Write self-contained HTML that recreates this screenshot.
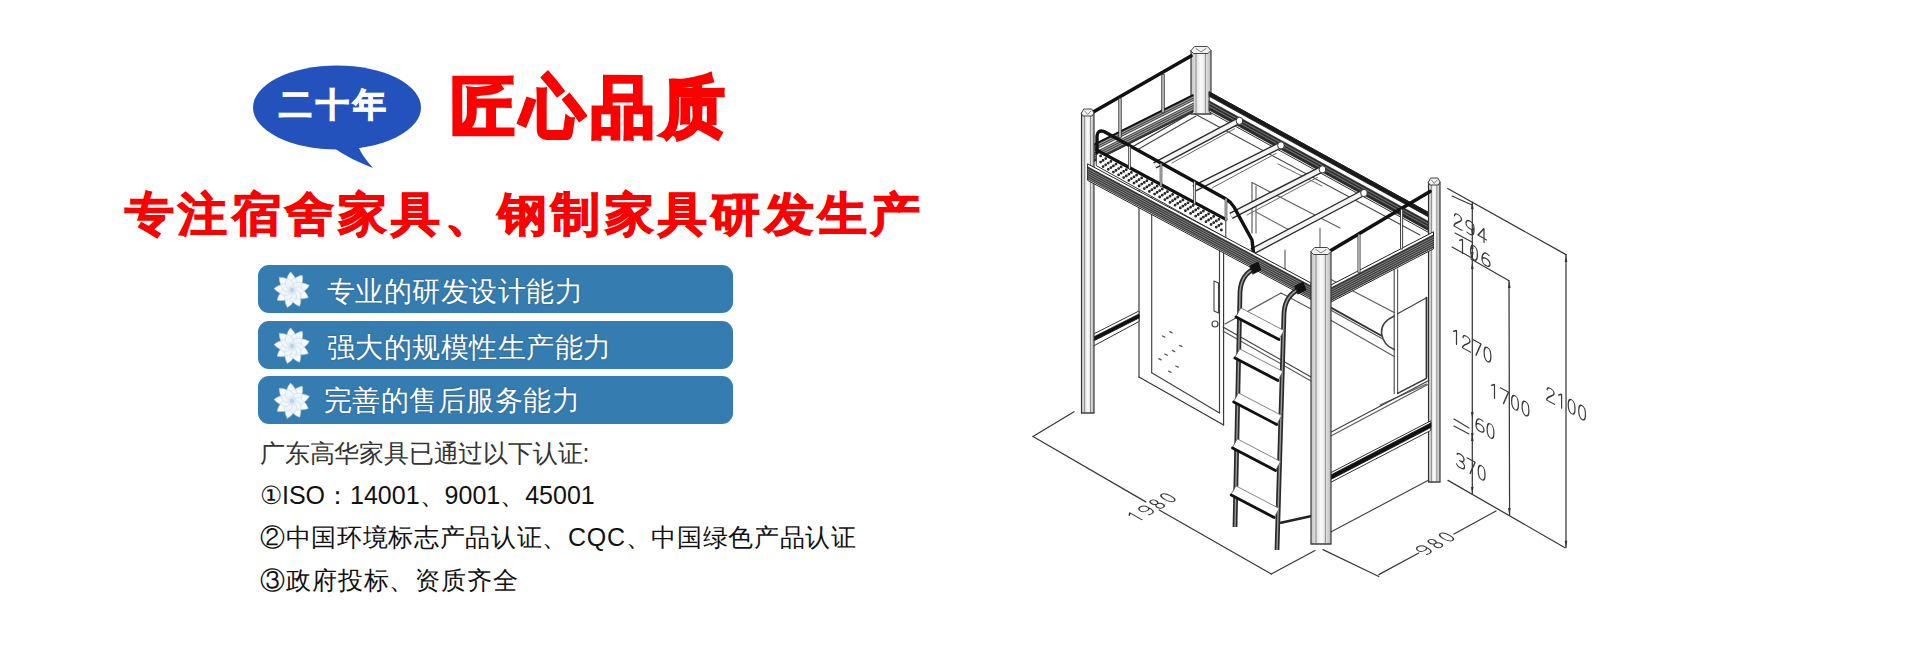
<!DOCTYPE html>
<html><head><meta charset="utf-8">
<style>
html,body{margin:0;padding:0;background:#fff;}
body{width:1920px;height:650px;position:relative;overflow:hidden;font-family:"Liberation Sans",sans-serif;}
.abs{position:absolute;white-space:nowrap;line-height:1;}
.t1{left:451px;top:74.5px;font-size:63px;color:#fc0000;font-weight:700;-webkit-text-stroke:3.4px #fc0000;letter-spacing:7px;transform:scaleY(1.04);transform-origin:0 0;}
.t2{left:125px;top:191px;font-size:49px;color:#fc0000;font-weight:700;-webkit-text-stroke:1.4px #fc0000;letter-spacing:4.3px;transform:scaleY(0.94);transform-origin:0 0;}
.bar{position:absolute;left:258px;width:475px;height:48px;border-radius:11px;background:#357cb0;}
.bar span{text-shadow:0 0 1.5px rgba(20,40,70,0.55);position:absolute;left:69px;top:12px;font-size:28.3px;letter-spacing:0.45px;color:#fff;line-height:1;white-space:nowrap;}
.flw{position:absolute;left:14px;top:5px;width:40px;height:40px;}
.cert{font-size:25px;color:#111;}
</style></head>
<body>
<svg class="abs" style="left:0;top:0" width="960" height="650" viewBox="0 0 960 650">
  <ellipse cx="337" cy="107.5" rx="84" ry="42" fill="#2452bd"/>
  <path d="M331 146 C345 156 360 163 373 168 C366 160 360 152 358 145 Z" fill="#2452bd"/>
</svg>
<div class="abs" style="left:279px;top:88px;font-size:33px;color:#fff;font-weight:700;-webkit-text-stroke:1.3px #fff;letter-spacing:4px">二十年</div>
<div class="abs t1">匠心品质</div>
<div class="abs t2">专注宿舍家具、钢制家具研发生产</div>

<div class="bar" style="top:265px"><svg class="flw" viewBox="-20 -20 40 40"><g fill="#f7fbfe" stroke="#a9c3da" stroke-width="0.5"><path d="M0 -18 C5 -13 7 -7 0 0 C-7 -7 -5 -13 0 -18 Z" transform="rotate(-5)"/><path d="M0 -18 C5 -13 7 -7 0 0 C-7 -7 -5 -13 0 -18 Z" transform="rotate(35)"/><path d="M0 -18 C5 -13 7 -7 0 0 C-7 -7 -5 -13 0 -18 Z" transform="rotate(75)"/><path d="M0 -18 C5 -13 7 -7 0 0 C-7 -7 -5 -13 0 -18 Z" transform="rotate(115)"/><path d="M0 -18 C5 -13 7 -7 0 0 C-7 -7 -5 -13 0 -18 Z" transform="rotate(155)"/><path d="M0 -18 C5 -13 7 -7 0 0 C-7 -7 -5 -13 0 -18 Z" transform="rotate(195)"/><path d="M0 -18 C5 -13 7 -7 0 0 C-7 -7 -5 -13 0 -18 Z" transform="rotate(235)"/><path d="M0 -18 C5 -13 7 -7 0 0 C-7 -7 -5 -13 0 -18 Z" transform="rotate(275)"/><path d="M0 -18 C5 -13 7 -7 0 0 C-7 -7 -5 -13 0 -18 Z" transform="rotate(315)"/></g><g fill="#eef5fb" stroke="#c2d6e8" stroke-width="0.5"><path d="M0 -12.5 C4.5 -9 6 -5 0 0 C-6 -5 -4.5 -9 0 -12.5 Z" transform="rotate(15)"/><path d="M0 -12.5 C4.5 -9 6 -5 0 0 C-6 -5 -4.5 -9 0 -12.5 Z" transform="rotate(55)"/><path d="M0 -12.5 C4.5 -9 6 -5 0 0 C-6 -5 -4.5 -9 0 -12.5 Z" transform="rotate(95)"/><path d="M0 -12.5 C4.5 -9 6 -5 0 0 C-6 -5 -4.5 -9 0 -12.5 Z" transform="rotate(135)"/><path d="M0 -12.5 C4.5 -9 6 -5 0 0 C-6 -5 -4.5 -9 0 -12.5 Z" transform="rotate(175)"/><path d="M0 -12.5 C4.5 -9 6 -5 0 0 C-6 -5 -4.5 -9 0 -12.5 Z" transform="rotate(215)"/><path d="M0 -12.5 C4.5 -9 6 -5 0 0 C-6 -5 -4.5 -9 0 -12.5 Z" transform="rotate(255)"/><path d="M0 -12.5 C4.5 -9 6 -5 0 0 C-6 -5 -4.5 -9 0 -12.5 Z" transform="rotate(295)"/><path d="M0 -12.5 C4.5 -9 6 -5 0 0 C-6 -5 -4.5 -9 0 -12.5 Z" transform="rotate(335)"/></g><circle r="4.5" fill="#dce9f5"/><circle r="2.2" fill="#b9d2ea"/></svg><span>专业的研发设计能力</span></div>
<div class="bar" style="top:321px"><svg class="flw" viewBox="-20 -20 40 40"><g fill="#f7fbfe" stroke="#a9c3da" stroke-width="0.5"><path d="M0 -18 C5 -13 7 -7 0 0 C-7 -7 -5 -13 0 -18 Z" transform="rotate(-5)"/><path d="M0 -18 C5 -13 7 -7 0 0 C-7 -7 -5 -13 0 -18 Z" transform="rotate(35)"/><path d="M0 -18 C5 -13 7 -7 0 0 C-7 -7 -5 -13 0 -18 Z" transform="rotate(75)"/><path d="M0 -18 C5 -13 7 -7 0 0 C-7 -7 -5 -13 0 -18 Z" transform="rotate(115)"/><path d="M0 -18 C5 -13 7 -7 0 0 C-7 -7 -5 -13 0 -18 Z" transform="rotate(155)"/><path d="M0 -18 C5 -13 7 -7 0 0 C-7 -7 -5 -13 0 -18 Z" transform="rotate(195)"/><path d="M0 -18 C5 -13 7 -7 0 0 C-7 -7 -5 -13 0 -18 Z" transform="rotate(235)"/><path d="M0 -18 C5 -13 7 -7 0 0 C-7 -7 -5 -13 0 -18 Z" transform="rotate(275)"/><path d="M0 -18 C5 -13 7 -7 0 0 C-7 -7 -5 -13 0 -18 Z" transform="rotate(315)"/></g><g fill="#eef5fb" stroke="#c2d6e8" stroke-width="0.5"><path d="M0 -12.5 C4.5 -9 6 -5 0 0 C-6 -5 -4.5 -9 0 -12.5 Z" transform="rotate(15)"/><path d="M0 -12.5 C4.5 -9 6 -5 0 0 C-6 -5 -4.5 -9 0 -12.5 Z" transform="rotate(55)"/><path d="M0 -12.5 C4.5 -9 6 -5 0 0 C-6 -5 -4.5 -9 0 -12.5 Z" transform="rotate(95)"/><path d="M0 -12.5 C4.5 -9 6 -5 0 0 C-6 -5 -4.5 -9 0 -12.5 Z" transform="rotate(135)"/><path d="M0 -12.5 C4.5 -9 6 -5 0 0 C-6 -5 -4.5 -9 0 -12.5 Z" transform="rotate(175)"/><path d="M0 -12.5 C4.5 -9 6 -5 0 0 C-6 -5 -4.5 -9 0 -12.5 Z" transform="rotate(215)"/><path d="M0 -12.5 C4.5 -9 6 -5 0 0 C-6 -5 -4.5 -9 0 -12.5 Z" transform="rotate(255)"/><path d="M0 -12.5 C4.5 -9 6 -5 0 0 C-6 -5 -4.5 -9 0 -12.5 Z" transform="rotate(295)"/><path d="M0 -12.5 C4.5 -9 6 -5 0 0 C-6 -5 -4.5 -9 0 -12.5 Z" transform="rotate(335)"/></g><circle r="4.5" fill="#dce9f5"/><circle r="2.2" fill="#b9d2ea"/></svg><span>强大的规模性生产能力</span></div>
<div class="bar" style="top:376px"><svg class="flw" viewBox="-20 -20 40 40"><g fill="#f7fbfe" stroke="#a9c3da" stroke-width="0.5"><path d="M0 -18 C5 -13 7 -7 0 0 C-7 -7 -5 -13 0 -18 Z" transform="rotate(-5)"/><path d="M0 -18 C5 -13 7 -7 0 0 C-7 -7 -5 -13 0 -18 Z" transform="rotate(35)"/><path d="M0 -18 C5 -13 7 -7 0 0 C-7 -7 -5 -13 0 -18 Z" transform="rotate(75)"/><path d="M0 -18 C5 -13 7 -7 0 0 C-7 -7 -5 -13 0 -18 Z" transform="rotate(115)"/><path d="M0 -18 C5 -13 7 -7 0 0 C-7 -7 -5 -13 0 -18 Z" transform="rotate(155)"/><path d="M0 -18 C5 -13 7 -7 0 0 C-7 -7 -5 -13 0 -18 Z" transform="rotate(195)"/><path d="M0 -18 C5 -13 7 -7 0 0 C-7 -7 -5 -13 0 -18 Z" transform="rotate(235)"/><path d="M0 -18 C5 -13 7 -7 0 0 C-7 -7 -5 -13 0 -18 Z" transform="rotate(275)"/><path d="M0 -18 C5 -13 7 -7 0 0 C-7 -7 -5 -13 0 -18 Z" transform="rotate(315)"/></g><g fill="#eef5fb" stroke="#c2d6e8" stroke-width="0.5"><path d="M0 -12.5 C4.5 -9 6 -5 0 0 C-6 -5 -4.5 -9 0 -12.5 Z" transform="rotate(15)"/><path d="M0 -12.5 C4.5 -9 6 -5 0 0 C-6 -5 -4.5 -9 0 -12.5 Z" transform="rotate(55)"/><path d="M0 -12.5 C4.5 -9 6 -5 0 0 C-6 -5 -4.5 -9 0 -12.5 Z" transform="rotate(95)"/><path d="M0 -12.5 C4.5 -9 6 -5 0 0 C-6 -5 -4.5 -9 0 -12.5 Z" transform="rotate(135)"/><path d="M0 -12.5 C4.5 -9 6 -5 0 0 C-6 -5 -4.5 -9 0 -12.5 Z" transform="rotate(175)"/><path d="M0 -12.5 C4.5 -9 6 -5 0 0 C-6 -5 -4.5 -9 0 -12.5 Z" transform="rotate(215)"/><path d="M0 -12.5 C4.5 -9 6 -5 0 0 C-6 -5 -4.5 -9 0 -12.5 Z" transform="rotate(255)"/><path d="M0 -12.5 C4.5 -9 6 -5 0 0 C-6 -5 -4.5 -9 0 -12.5 Z" transform="rotate(295)"/><path d="M0 -12.5 C4.5 -9 6 -5 0 0 C-6 -5 -4.5 -9 0 -12.5 Z" transform="rotate(335)"/></g><circle r="4.5" fill="#dce9f5"/><circle r="2.2" fill="#b9d2ea"/></svg><span style="left:66px;top:10px">完善的售后服务能力</span></div>

<div class="abs cert" style="left:260px;top:441px;color:#333;letter-spacing:-0.2px">广东高华家具已通过以下认证:</div>
<div class="abs cert" style="left:260px;top:482.5px">①ISO：14001、9001、45001</div>
<div class="abs cert" style="left:260px;top:525px;letter-spacing:0.67px">②中国环境标志产品认证、CQC、中国绿色产品认证</div>
<div class="abs cert" style="left:260px;top:568px;letter-spacing:0.9px">③政府投标、资质齐全</div>



<!-- DRAWING -->
<svg class="abs" style="left:0;top:0" width="1920" height="650" viewBox="0 0 1920 650" fill="none" stroke="#222" stroke-width="1.2" stroke-linecap="round" stroke-linejoin="round">
<defs><linearGradient id="pg" x1="0" x2="1" y1="0" y2="0"><stop offset="0" stop-color="#c6c6c6"/><stop offset="0.3" stop-color="#e4e4e4"/><stop offset="0.5" stop-color="#fbfbfb"/><stop offset="0.7" stop-color="#e6e6e6"/><stop offset="1" stop-color="#bcbcbc"/></linearGradient></defs>
<polygon points="1191.0,50.5 1211.0,50.5 1211.0,114.0 1191.0,114.0" fill="url(#pg)" stroke="#333" stroke-width="1.15"/>
<line x1="1196.0" y1="52.5" x2="1196.0" y2="113.0" stroke="#777" stroke-width="0.8" />
<line x1="1205.4" y1="52.5" x2="1205.4" y2="113.0" stroke="#777" stroke-width="0.8" />
<path d="M1191 50.5 L1194.6 46.5 L1207.4 46.5 L1211 50.5 L1208.0 53.5 L1194.0 53.5 Z" stroke="#444" stroke-width="1" fill="#f2f2f2" />
<path d="M1196.0 48.5 L1201.0 52.0 L1206.0 48.5" stroke="#666" stroke-width="0.8" fill="none" />
<line x1="1191.0" y1="114.0" x2="1211.0" y2="114.0" stroke="#444" stroke-width="1.2" />
<polygon points="1209.5,92.0 1429.0,212.7 1429.0,232.7 1209.5,112.0" fill="#fff" stroke="#333" stroke-width="1"/>
<polygon points="1209.5,92.0 1429.0,212.7 1429.0,217.2 1209.5,96.5" fill="#1a1a1a" stroke="#1a1a1a" stroke-width="0.8"/>
<polygon points="1209.5,101.0 1429.0,221.7 1429.0,231.0 1209.5,110.3" fill="#2a2a2a" stroke="#222" stroke-width="0.6"/>
<line x1="1209.5" y1="103.5" x2="1429.0" y2="224.2" stroke="#6a6a6a" stroke-width="1.15" />
<line x1="1209.5" y1="106.5" x2="1429.0" y2="227.2" stroke="#6a6a6a" stroke-width="1.15" />
<polygon points="1093.0,145.0 1193.0,95.0 1193.0,112.0 1093.0,162.0" fill="#3a3a3a" stroke="#222" stroke-width="1"/>
<line x1="1093.0" y1="147.2" x2="1193.0" y2="97.2" stroke="#a0a0a0" stroke-width="1.15" />
<line x1="1093.0" y1="149.4" x2="1193.0" y2="99.4" stroke="#a0a0a0" stroke-width="1.15" />
<line x1="1093.0" y1="154.5" x2="1193.0" y2="104.5" stroke="#a0a0a0" stroke-width="1.15" />
<line x1="1093.0" y1="156.7" x2="1193.0" y2="106.7" stroke="#a0a0a0" stroke-width="1.15" />
<line x1="1093.0" y1="158.9" x2="1193.0" y2="108.9" stroke="#a0a0a0" stroke-width="1.15" />
<line x1="1093.0" y1="152.0" x2="1193.0" y2="102.0" stroke="#f0f0f0" stroke-width="1.6" />
<line x1="1093.0" y1="145.0" x2="1193.0" y2="95.0" stroke="#111" stroke-width="1.4" />
<line x1="1093.3" y1="112.0" x2="1191.0" y2="56.0" stroke="#111" stroke-width="3.6" />
<line x1="1120.0" y1="99.0" x2="1120.0" y2="137.0" stroke="#333" stroke-width="3.4" />
<line x1="1120.0" y1="99.0" x2="1120.0" y2="137.0" stroke="#fff" stroke-width="1.2" />
<line x1="1163.0" y1="75.0" x2="1163.0" y2="112.0" stroke="#333" stroke-width="3.4" />
<line x1="1163.0" y1="75.0" x2="1163.0" y2="112.0" stroke="#fff" stroke-width="1.2" />
<line x1="1133.0" y1="146.5" x2="1192.0" y2="112.6" stroke="#333" stroke-width="1.15" />
<line x1="1137.0" y1="150.0" x2="1196.0" y2="116.0" stroke="#4a4a4a" stroke-width="1.15" />
<line x1="1195.0" y1="114.0" x2="1420.0" y2="235.0" stroke="#4a4a4a" stroke-width="1.15" />
<line x1="1234.5" y1="128.8" x2="1172.0" y2="163.0" stroke="#6a6a6a" stroke-width="1.0" />
<line x1="1276.0" y1="153.4" x2="1212.0" y2="188.0" stroke="#6a6a6a" stroke-width="1.0" />
<line x1="1317.5" y1="177.4" x2="1247.0" y2="215.0" stroke="#6a6a6a" stroke-width="1.0" />
<line x1="1252.0" y1="182.5" x2="1340.0" y2="228.0" stroke="#5a5a5a" stroke-width="1.15" />
<line x1="1252.0" y1="182.5" x2="1252.0" y2="233.0" stroke="#5a5a5a" stroke-width="1.15" />
<line x1="1256.0" y1="186.0" x2="1256.0" y2="233.0" stroke="#6a6a6a" stroke-width="1.15" />
<line x1="1256.0" y1="212.0" x2="1293.0" y2="232.0" stroke="#6a6a6a" stroke-width="1.15" />
<line x1="1278.0" y1="164.0" x2="1322.0" y2="186.0" stroke="#6a6a6a" stroke-width="1.0" />
<line x1="1285.0" y1="250.0" x2="1285.0" y2="273.0" stroke="#5a5a5a" stroke-width="1.15" />
<line x1="1320.0" y1="228.0" x2="1320.0" y2="250.0" stroke="#6a6a6a" stroke-width="1.15" />
<line x1="1238.5" y1="120.8" x2="1154.8" y2="165.3" stroke="#2a2a2a" stroke-width="7.0" stroke-linecap="butt"/>
<line x1="1238.5" y1="120.8" x2="1154.8" y2="165.3" stroke="#f4f4f4" stroke-width="4.3" stroke-linecap="butt"/>
<ellipse cx="1239.5" cy="120.8" rx="3.4" ry="3.6" fill="#fff" stroke="#333" stroke-width="1"/>
<line x1="1280.0" y1="145.4" x2="1194.0" y2="188.7" stroke="#2a2a2a" stroke-width="7.0" stroke-linecap="butt"/>
<line x1="1280.0" y1="145.4" x2="1194.0" y2="188.7" stroke="#f4f4f4" stroke-width="4.3" stroke-linecap="butt"/>
<ellipse cx="1281.0" cy="145.4" rx="3.4" ry="3.6" fill="#fff" stroke="#333" stroke-width="1"/>
<line x1="1321.5" y1="169.4" x2="1231.0" y2="215.8" stroke="#2a2a2a" stroke-width="7.0" stroke-linecap="butt"/>
<line x1="1321.5" y1="169.4" x2="1231.0" y2="215.8" stroke="#f4f4f4" stroke-width="4.3" stroke-linecap="butt"/>
<ellipse cx="1322.5" cy="169.4" rx="3.4" ry="3.6" fill="#fff" stroke="#333" stroke-width="1"/>
<line x1="1363.0" y1="193.0" x2="1252.0" y2="251.6" stroke="#2a2a2a" stroke-width="7.0" stroke-linecap="butt"/>
<line x1="1363.0" y1="193.0" x2="1252.0" y2="251.6" stroke="#f4f4f4" stroke-width="4.3" stroke-linecap="butt"/>
<ellipse cx="1364.0" cy="193.0" rx="3.4" ry="3.6" fill="#fff" stroke="#333" stroke-width="1"/>
<line x1="1139.0" y1="190.0" x2="1139.0" y2="377.0" stroke="#333" stroke-width="1.15" />
<line x1="1151.7" y1="197.0" x2="1151.7" y2="372.7" stroke="#404040" stroke-width="1.15" />
<line x1="1139.0" y1="377.0" x2="1223.6" y2="425.0" stroke="#333" stroke-width="1.15" />
<line x1="1151.7" y1="372.7" x2="1219.5" y2="413.0" stroke="#404040" stroke-width="1.15" />
<line x1="1223.6" y1="243.0" x2="1223.6" y2="425.0" stroke="#333" stroke-width="1.15" />
<line x1="1219.5" y1="245.0" x2="1219.5" y2="413.0" stroke="#404040" stroke-width="1.15" />
<polygon points="1214.0,281.0 1218.5,283.0 1218.5,313.0 1214.0,311.0" fill="#fff" stroke="#444" stroke-width="1.1"/>
<circle cx="1215" cy="324" r="3" fill="#fff" stroke="#444" stroke-width="1.2"/>
<line x1="1169.8" y1="331.6" x2="1172.2" y2="332.8" stroke="#5a5a5a" stroke-width="1.3" />
<line x1="1162.4" y1="336.0" x2="1164.8" y2="337.2" stroke="#5a5a5a" stroke-width="1.3" />
<line x1="1179.6" y1="345.4" x2="1182.0" y2="346.6" stroke="#5a5a5a" stroke-width="1.3" />
<line x1="1172.3" y1="350.4" x2="1174.7" y2="351.6" stroke="#5a5a5a" stroke-width="1.3" />
<line x1="1164.8" y1="354.0" x2="1167.2" y2="355.2" stroke="#5a5a5a" stroke-width="1.3" />
<line x1="1158.8" y1="358.7" x2="1161.2" y2="359.9" stroke="#5a5a5a" stroke-width="1.3" />
<line x1="1175.8" y1="366.0" x2="1178.2" y2="367.2" stroke="#5a5a5a" stroke-width="1.3" />
<line x1="1168.6" y1="371.2" x2="1171.0" y2="372.4" stroke="#5a5a5a" stroke-width="1.3" />
<polygon points="1093.5,334.0 1139.0,311.0 1139.0,321.5 1093.5,346.0" fill="#fff" stroke="#333" stroke-width="1"/>
<polygon points="1093.5,337.0 1139.0,314.0 1139.0,318.0 1093.5,341.0" fill="#111" stroke="#111" stroke-width="0.8"/>
<polygon points="1081.5,113.0 1094.0,113.0 1094.0,413.0 1081.5,413.0" fill="url(#pg)" stroke="#333" stroke-width="1.15"/>
<line x1="1084.6" y1="115.0" x2="1084.6" y2="412.0" stroke="#777" stroke-width="0.8" />
<line x1="1090.5" y1="115.0" x2="1090.5" y2="412.0" stroke="#777" stroke-width="0.8" />
<path d="M1081.5 113 L1083.75 109 L1091.75 109 L1094 113 L1092.125 116 L1083.375 116 Z" stroke="#444" stroke-width="1" fill="#f2f2f2" />
<path d="M1084.625 111 L1087.75 114.5 L1090.875 111" stroke="#666" stroke-width="0.8" fill="none" />
<line x1="1081.5" y1="413.0" x2="1094.0" y2="413.0" stroke="#444" stroke-width="1.2" />
<polygon points="1096.6,150.0 1225.8,219.3 1225.8,237.8 1096.6,165.8" fill="#fff" stroke="#333" stroke-width="1"/>
<circle cx="1100.6" cy="155.9" r="0.8" fill="#999"/>
<circle cx="1105.7" cy="158.6" r="0.8" fill="#999"/>
<circle cx="1110.9" cy="161.4" r="0.8" fill="#999"/>
<circle cx="1116.0" cy="164.2" r="0.8" fill="#999"/>
<circle cx="1121.1" cy="166.9" r="0.8" fill="#999"/>
<circle cx="1126.3" cy="169.7" r="0.8" fill="#999"/>
<circle cx="1131.4" cy="172.4" r="0.8" fill="#999"/>
<circle cx="1136.6" cy="175.2" r="0.8" fill="#999"/>
<circle cx="1141.7" cy="177.9" r="0.8" fill="#999"/>
<circle cx="1146.9" cy="180.7" r="0.8" fill="#999"/>
<circle cx="1152.0" cy="183.5" r="0.8" fill="#999"/>
<circle cx="1157.1" cy="186.2" r="0.8" fill="#999"/>
<circle cx="1162.3" cy="189.0" r="0.8" fill="#999"/>
<circle cx="1167.4" cy="191.7" r="0.8" fill="#999"/>
<circle cx="1172.6" cy="194.5" r="0.8" fill="#999"/>
<circle cx="1177.7" cy="197.2" r="0.8" fill="#999"/>
<circle cx="1182.9" cy="200.0" r="0.8" fill="#999"/>
<circle cx="1188.0" cy="202.8" r="0.8" fill="#999"/>
<circle cx="1193.1" cy="205.5" r="0.8" fill="#999"/>
<circle cx="1198.3" cy="208.3" r="0.8" fill="#999"/>
<circle cx="1203.4" cy="211.0" r="0.8" fill="#999"/>
<circle cx="1208.6" cy="213.8" r="0.8" fill="#999"/>
<circle cx="1213.7" cy="216.5" r="0.8" fill="#999"/>
<circle cx="1218.9" cy="219.3" r="0.8" fill="#999"/>
<circle cx="1103.1" cy="160.4" r="0.8" fill="#999"/>
<circle cx="1108.3" cy="163.1" r="0.8" fill="#999"/>
<circle cx="1113.4" cy="165.9" r="0.8" fill="#999"/>
<circle cx="1118.6" cy="168.6" r="0.8" fill="#999"/>
<circle cx="1123.7" cy="171.4" r="0.8" fill="#999"/>
<circle cx="1128.9" cy="174.2" r="0.8" fill="#999"/>
<circle cx="1134.0" cy="176.9" r="0.8" fill="#999"/>
<circle cx="1139.1" cy="179.7" r="0.8" fill="#999"/>
<circle cx="1144.3" cy="182.4" r="0.8" fill="#999"/>
<circle cx="1149.4" cy="185.2" r="0.8" fill="#999"/>
<circle cx="1154.6" cy="187.9" r="0.8" fill="#999"/>
<circle cx="1159.7" cy="190.7" r="0.8" fill="#999"/>
<circle cx="1164.9" cy="193.4" r="0.8" fill="#999"/>
<circle cx="1170.0" cy="196.2" r="0.8" fill="#999"/>
<circle cx="1175.1" cy="199.0" r="0.8" fill="#999"/>
<circle cx="1180.3" cy="201.7" r="0.8" fill="#999"/>
<circle cx="1185.4" cy="204.5" r="0.8" fill="#999"/>
<circle cx="1190.6" cy="207.2" r="0.8" fill="#999"/>
<circle cx="1195.7" cy="210.0" r="0.8" fill="#999"/>
<circle cx="1200.9" cy="212.7" r="0.8" fill="#999"/>
<circle cx="1206.0" cy="215.5" r="0.8" fill="#999"/>
<circle cx="1211.1" cy="218.3" r="0.8" fill="#999"/>
<circle cx="1216.3" cy="221.0" r="0.8" fill="#999"/>
<circle cx="1221.4" cy="223.8" r="0.8" fill="#999"/>
<circle cx="1100.6" cy="162.1" r="0.8" fill="#999"/>
<circle cx="1105.7" cy="164.8" r="0.8" fill="#999"/>
<circle cx="1110.9" cy="167.6" r="0.8" fill="#999"/>
<circle cx="1116.0" cy="170.4" r="0.8" fill="#999"/>
<circle cx="1121.1" cy="173.1" r="0.8" fill="#999"/>
<circle cx="1126.3" cy="175.9" r="0.8" fill="#999"/>
<circle cx="1131.4" cy="178.6" r="0.8" fill="#999"/>
<circle cx="1136.6" cy="181.4" r="0.8" fill="#999"/>
<circle cx="1141.7" cy="184.1" r="0.8" fill="#999"/>
<circle cx="1146.9" cy="186.9" r="0.8" fill="#999"/>
<circle cx="1152.0" cy="189.7" r="0.8" fill="#999"/>
<circle cx="1157.1" cy="192.4" r="0.8" fill="#999"/>
<circle cx="1162.3" cy="195.2" r="0.8" fill="#999"/>
<circle cx="1167.4" cy="197.9" r="0.8" fill="#999"/>
<circle cx="1172.6" cy="200.7" r="0.8" fill="#999"/>
<circle cx="1177.7" cy="203.4" r="0.8" fill="#999"/>
<circle cx="1182.9" cy="206.2" r="0.8" fill="#999"/>
<circle cx="1188.0" cy="209.0" r="0.8" fill="#999"/>
<circle cx="1193.1" cy="211.7" r="0.8" fill="#999"/>
<circle cx="1198.3" cy="214.5" r="0.8" fill="#999"/>
<circle cx="1203.4" cy="217.2" r="0.8" fill="#999"/>
<circle cx="1208.6" cy="220.0" r="0.8" fill="#999"/>
<circle cx="1213.7" cy="222.7" r="0.8" fill="#999"/>
<circle cx="1218.9" cy="225.5" r="0.8" fill="#999"/>
<circle cx="1103.1" cy="166.6" r="0.8" fill="#999"/>
<circle cx="1108.3" cy="169.3" r="0.8" fill="#999"/>
<circle cx="1113.4" cy="172.1" r="0.8" fill="#999"/>
<circle cx="1118.6" cy="174.8" r="0.8" fill="#999"/>
<circle cx="1123.7" cy="177.6" r="0.8" fill="#999"/>
<circle cx="1128.9" cy="180.4" r="0.8" fill="#999"/>
<circle cx="1134.0" cy="183.1" r="0.8" fill="#999"/>
<circle cx="1139.1" cy="185.9" r="0.8" fill="#999"/>
<circle cx="1144.3" cy="188.6" r="0.8" fill="#999"/>
<circle cx="1149.4" cy="191.4" r="0.8" fill="#999"/>
<circle cx="1154.6" cy="194.1" r="0.8" fill="#999"/>
<circle cx="1159.7" cy="196.9" r="0.8" fill="#999"/>
<circle cx="1164.9" cy="199.6" r="0.8" fill="#999"/>
<circle cx="1170.0" cy="202.4" r="0.8" fill="#999"/>
<circle cx="1175.1" cy="205.2" r="0.8" fill="#999"/>
<circle cx="1180.3" cy="207.9" r="0.8" fill="#999"/>
<circle cx="1185.4" cy="210.7" r="0.8" fill="#999"/>
<circle cx="1190.6" cy="213.4" r="0.8" fill="#999"/>
<circle cx="1195.7" cy="216.2" r="0.8" fill="#999"/>
<circle cx="1200.9" cy="218.9" r="0.8" fill="#999"/>
<circle cx="1206.0" cy="221.7" r="0.8" fill="#999"/>
<circle cx="1211.1" cy="224.5" r="0.8" fill="#999"/>
<circle cx="1216.3" cy="227.2" r="0.8" fill="#999"/>
<circle cx="1221.4" cy="230.0" r="0.8" fill="#999"/>
<line x1="1096.6" y1="150.0" x2="1225.8" y2="219.3" stroke="#111" stroke-width="3.2" />
<path d="M1097 153 L1097 136 Q1097.5 129.5 1104 131.5 L1226 199 Q1231 202 1234 207 L1252 240 L1254 257" stroke="#111" stroke-width="3.4" fill="none" />
<line x1="1129.5" y1="147.0" x2="1129.5" y2="168.0" stroke="#333" stroke-width="2.6" />
<line x1="1129.5" y1="147.0" x2="1129.5" y2="168.0" stroke="#ddd" stroke-width="1.15" />
<line x1="1161.0" y1="164.0" x2="1161.0" y2="186.0" stroke="#333" stroke-width="2.6" />
<line x1="1161.0" y1="164.0" x2="1161.0" y2="186.0" stroke="#ddd" stroke-width="1.15" />
<line x1="1194.6" y1="182.0" x2="1194.6" y2="203.0" stroke="#333" stroke-width="2.6" />
<line x1="1194.6" y1="182.0" x2="1194.6" y2="203.0" stroke="#ddd" stroke-width="1.15" />
<line x1="1226.0" y1="199.0" x2="1226.0" y2="220.0" stroke="#333" stroke-width="2.6" />
<line x1="1226.0" y1="199.0" x2="1226.0" y2="220.0" stroke="#ddd" stroke-width="1.15" />
<polygon points="1088.0,164.0 1311.0,283.0 1311.0,299.5 1088.0,180.5" fill="#fff" stroke="#222" stroke-width="1"/>
<polygon points="1088.0,167.0 1311.0,286.0 1311.0,298.0 1088.0,179.0" fill="#3a3a3a" stroke="#222" stroke-width="0.8"/>
<line x1="1088.0" y1="169.2" x2="1311.0" y2="288.2" stroke="#a0a0a0" stroke-width="0.7" />
<line x1="1088.0" y1="171.4" x2="1311.0" y2="290.4" stroke="#a0a0a0" stroke-width="0.7" />
<line x1="1088.0" y1="173.6" x2="1311.0" y2="292.6" stroke="#a0a0a0" stroke-width="0.7" />
<line x1="1088.0" y1="175.8" x2="1311.0" y2="294.8" stroke="#a0a0a0" stroke-width="0.7" />
<line x1="1088.0" y1="178.0" x2="1311.0" y2="297.0" stroke="#a0a0a0" stroke-width="0.7" />
<line x1="1223.0" y1="327.0" x2="1311.0" y2="377.0" stroke="#404040" stroke-width="1.15" />
<line x1="1223.0" y1="331.0" x2="1311.0" y2="381.0" stroke="#5a5a5a" stroke-width="1.15" />
<line x1="1225.0" y1="324.0" x2="1281.0" y2="293.0" stroke="#5a5a5a" stroke-width="1.15" />
<line x1="1281.0" y1="293.0" x2="1313.0" y2="310.0" stroke="#5a5a5a" stroke-width="1.15" />
<line x1="1330.0" y1="279.0" x2="1394.2" y2="312.6" stroke="#5a5a5a" stroke-width="1.15" />
<line x1="1394.2" y1="268.8" x2="1394.2" y2="393.4" stroke="#4a4a4a" stroke-width="1.15" />
<line x1="1397.6" y1="268.8" x2="1397.6" y2="393.4" stroke="#5a5a5a" stroke-width="1.15" />
<line x1="1397.6" y1="313.8" x2="1426.5" y2="297.7" stroke="#404040" stroke-width="1.15" />
<line x1="1426.5" y1="297.7" x2="1426.5" y2="377.2" stroke="#333" stroke-width="1.8" />
<line x1="1397.6" y1="393.4" x2="1426.5" y2="378.4" stroke="#333" stroke-width="1.5" />
<line x1="1329.6" y1="306.9" x2="1381.5" y2="335.7" stroke="#333" stroke-width="1.8" />
<line x1="1329.6" y1="309.5" x2="1381.5" y2="338.3" stroke="#5a5a5a" stroke-width="1.15" />
<path d="M1394.2 316 Q1381 322 1381.5 333 Q1383 345 1394.2 349.6" stroke="#444" stroke-width="1.6" fill="none" />
<line x1="1329.6" y1="319.6" x2="1394.2" y2="356.5" stroke="#5a5a5a" stroke-width="1.15" />
<line x1="1380.0" y1="405.0" x2="1426.5" y2="384.0" stroke="#5a5a5a" stroke-width="1.15" />
<path d="M1254 269 Q1241 275 1240 292 L1235 527" stroke="#2a2a2a" stroke-width="4.8" fill="none" stroke-linecap="butt"/>
<path d="M1254 269 Q1241 275 1240 292 L1235 527" stroke="#9a9a9a" stroke-width="1.4" fill="none" stroke-linecap="butt"/>
<path d="M1299 289 Q1285 296 1284 313 L1277 550" stroke="#2a2a2a" stroke-width="4.8" fill="none" stroke-linecap="butt"/>
<path d="M1299 289 Q1285 296 1284 313 L1277 550" stroke="#9a9a9a" stroke-width="1.4" fill="none" stroke-linecap="butt"/>
<polygon points="1250.0,266.0 1258.0,262.0 1261.0,270.0 1253.0,274.0" fill="#111" stroke="#111" stroke-width="0.8"/>
<polygon points="1295.0,286.0 1303.0,282.0 1306.0,290.0 1298.0,294.0" fill="#111" stroke="#111" stroke-width="0.8"/>
<polygon points="1236.0,317.0 1279.0,339.5 1284.0,330.5 1241.0,308.0" fill="#fff" stroke="#666" stroke-width="0.8"/>
<line x1="1236.0" y1="317.0" x2="1279.0" y2="339.5" stroke="#111" stroke-width="2.8" />
<polygon points="1234.9,358.0 1277.9,380.5 1282.9,371.5 1239.9,349.0" fill="#fff" stroke="#666" stroke-width="0.8"/>
<line x1="1234.9" y1="358.0" x2="1277.9" y2="380.5" stroke="#111" stroke-width="2.8" />
<polygon points="1233.7,402.0 1276.7,424.5 1281.7,415.5 1238.7,393.0" fill="#fff" stroke="#666" stroke-width="0.8"/>
<line x1="1233.7" y1="402.0" x2="1276.7" y2="424.5" stroke="#111" stroke-width="2.8" />
<polygon points="1232.5,448.0 1275.5,470.5 1280.5,461.5 1237.5,439.0" fill="#fff" stroke="#666" stroke-width="0.8"/>
<line x1="1232.5" y1="448.0" x2="1275.5" y2="470.5" stroke="#111" stroke-width="2.8" />
<polygon points="1231.2,495.0 1274.2,517.5 1279.2,508.5 1236.2,486.0" fill="#fff" stroke="#666" stroke-width="0.8"/>
<line x1="1231.2" y1="495.0" x2="1274.2" y2="517.5" stroke="#111" stroke-width="2.8" />
<line x1="1281.0" y1="522.7" x2="1312.8" y2="515.8" stroke="#222" stroke-width="2.6" />
<polygon points="1428.5,182.0 1440.0,182.0 1440.0,482.0 1428.5,482.0" fill="url(#pg)" stroke="#333" stroke-width="1.15"/>
<line x1="1431.4" y1="184.0" x2="1431.4" y2="481.0" stroke="#777" stroke-width="0.8" />
<line x1="1436.8" y1="184.0" x2="1436.8" y2="481.0" stroke="#777" stroke-width="0.8" />
<path d="M1428.5 182 L1430.57 178 L1437.93 178 L1440 182 L1438.275 185 L1430.225 185 Z" stroke="#444" stroke-width="1" fill="#f2f2f2" />
<path d="M1431.375 180 L1434.25 183.5 L1437.125 180" stroke="#666" stroke-width="0.8" fill="none" />
<line x1="1428.5" y1="482.0" x2="1440.0" y2="482.0" stroke="#444" stroke-width="1.2" />
<polygon points="1331.0,285.0 1433.5,231.8 1433.5,248.8 1331.0,302.0" fill="#fff" stroke="#222" stroke-width="1"/>
<polygon points="1331.0,288.0 1433.5,234.8 1433.5,247.3 1331.0,300.5" fill="#3a3a3a" stroke="#222" stroke-width="0.8"/>
<line x1="1331.0" y1="290.2" x2="1433.5" y2="237.0" stroke="#a0a0a0" stroke-width="0.7" />
<line x1="1331.0" y1="292.4" x2="1433.5" y2="239.2" stroke="#a0a0a0" stroke-width="0.7" />
<line x1="1331.0" y1="294.6" x2="1433.5" y2="241.4" stroke="#a0a0a0" stroke-width="0.7" />
<line x1="1331.0" y1="296.8" x2="1433.5" y2="243.6" stroke="#a0a0a0" stroke-width="0.7" />
<line x1="1331.0" y1="299.0" x2="1433.5" y2="245.8" stroke="#a0a0a0" stroke-width="0.7" />
<line x1="1330.0" y1="251.0" x2="1430.0" y2="191.5" stroke="#111" stroke-width="3.6" />
<line x1="1359.0" y1="235.0" x2="1359.0" y2="272.0" stroke="#333" stroke-width="3.0" />
<line x1="1359.0" y1="235.0" x2="1359.0" y2="272.0" stroke="#fff" stroke-width="1.15" />
<line x1="1401.6" y1="210.0" x2="1401.6" y2="248.0" stroke="#333" stroke-width="3.0" />
<line x1="1401.6" y1="210.0" x2="1401.6" y2="248.0" stroke="#fff" stroke-width="1.15" />
<line x1="1330.8" y1="432.3" x2="1428.8" y2="380.4" stroke="#404040" stroke-width="1.15" />
<line x1="1330.8" y1="436.0" x2="1428.8" y2="384.0" stroke="#5a5a5a" stroke-width="1.15" />
<line x1="1330.8" y1="532.0" x2="1428.8" y2="480.0" stroke="#404040" stroke-width="1.15" />
<polygon points="1330.8,472.7 1430.8,420.8 1430.8,430.4 1330.8,482.3" fill="#fff" stroke="#333" stroke-width="1"/>
<polygon points="1330.8,475.0 1430.8,423.0 1430.8,427.5 1330.8,479.5" fill="#111" stroke="#111" stroke-width="0.8"/>
<polygon points="1311.0,251.5 1331.0,251.5 1331.0,544.0 1311.0,544.0" fill="url(#pg)" stroke="#333" stroke-width="1.15"/>
<line x1="1316.0" y1="253.5" x2="1316.0" y2="543.0" stroke="#777" stroke-width="0.8" />
<line x1="1325.4" y1="253.5" x2="1325.4" y2="543.0" stroke="#777" stroke-width="0.8" />
<path d="M1311 251.5 L1314.6 247.5 L1327.4 247.5 L1331 251.5 L1328.0 254.5 L1314.0 254.5 Z" stroke="#444" stroke-width="1" fill="#f2f2f2" />
<path d="M1316.0 249.5 L1321.0 253.0 L1326.0 249.5" stroke="#666" stroke-width="0.8" fill="none" />
<line x1="1311.0" y1="544.0" x2="1331.0" y2="544.0" stroke="#444" stroke-width="1.2" />
<line x1="1033.0" y1="436.5" x2="1145.8" y2="501.9" stroke="#383838" stroke-width="1.25" />
<line x1="1159.2" y1="510.0" x2="1271.3" y2="574.0" stroke="#383838" stroke-width="1.25" />
<line x1="1033.0" y1="436.5" x2="1074.0" y2="411.7" stroke="#383838" stroke-width="1.25" />
<line x1="1271.3" y1="574.0" x2="1315.0" y2="550.5" stroke="#383838" stroke-width="1.25" />
<line x1="1378.8" y1="574.6" x2="1418.8" y2="553.0" stroke="#383838" stroke-width="1.25" />
<line x1="1454.0" y1="534.0" x2="1496.0" y2="511.0" stroke="#383838" stroke-width="1.25" />
<line x1="1323.0" y1="549.6" x2="1378.8" y2="576.5" stroke="#383838" stroke-width="1.25" />
<line x1="1448.0" y1="480.4" x2="1565.0" y2="547.7" stroke="#383838" stroke-width="1.25" />
<line x1="1447.7" y1="188.5" x2="1566.0" y2="254.6" stroke="#383838" stroke-width="1.25" />
<line x1="1566.0" y1="254.6" x2="1566.0" y2="547.7" stroke="#383838" stroke-width="1.25" />
<line x1="1471.0" y1="259.0" x2="1509.0" y2="280.8" stroke="#383838" stroke-width="1.25" />
<line x1="1509.0" y1="280.8" x2="1509.6" y2="515.0" stroke="#383838" stroke-width="1.25" />
<line x1="1472.3" y1="202.0" x2="1472.3" y2="494.0" stroke="#383838" stroke-width="1.25" />
<line x1="1452.0" y1="196.0" x2="1472.0" y2="205.0" stroke="#383838" stroke-width="1.15" />
<line x1="1455.0" y1="233.0" x2="1472.0" y2="242.0" stroke="#383838" stroke-width="1.15" />
<line x1="1452.0" y1="247.0" x2="1472.0" y2="258.0" stroke="#383838" stroke-width="1.15" />
<line x1="1454.0" y1="419.0" x2="1469.0" y2="428.0" stroke="#383838" stroke-width="1.15" />
<line x1="1454.0" y1="426.0" x2="1469.0" y2="434.0" stroke="#383838" stroke-width="1.15" />
<path d="M1472.3 202 L1471.0 209 L1473.6 209 Z" fill="#333" stroke="none"/>
<path d="M1472.3 236 L1471.0 229 L1473.6 229 Z" fill="#333" stroke="none"/>
<path d="M1472.3 242 L1471.0 249 L1473.6 249 Z" fill="#333" stroke="none"/>
<path d="M1472.3 259 L1471.0 252 L1473.6 252 Z" fill="#333" stroke="none"/>
<path d="M1472.3 262 L1471.0 269 L1473.6 269 Z" fill="#333" stroke="none"/>
<path d="M1472.3 419 L1471.0 412 L1473.6 412 Z" fill="#333" stroke="none"/>
<path d="M1472.3 434 L1471.0 441 L1473.6 441 Z" fill="#333" stroke="none"/>
<path d="M1472.3 440 L1471.0 433 L1473.6 433 Z" fill="#333" stroke="none"/>
<path d="M1472.3 494 L1471.0 487 L1473.6 487 Z" fill="#333" stroke="none"/>
<path d="M1509.3 281 L1508.0 288 L1510.6 288 Z" fill="#333" stroke="none"/>
<path d="M1509.3 515 L1508.0 508 L1510.6 508 Z" fill="#333" stroke="none"/>
<path d="M1566 255 L1564.7 262 L1567.3 262 Z" fill="#333" stroke="none"/>
<path d="M1566 547.7 L1564.7 540.7 L1567.3 540.7 Z" fill="#333" stroke="none"/>
<g transform="matrix(1 0.55 0 1 1454 226) translate(0 -14)" fill="none" stroke="#383838" stroke-width="1.2" stroke-linecap="round" stroke-linejoin="round"><path transform="translate(0 0)" d="M0.5 3.5 C0.5 -0.8 7.5 -0.8 7.5 3.5 C7.5 6.5 0 10 0 14 L8 14"/><path transform="translate(12 0)" d="M8 5 C7.5 9 0 9 0 4.5 C0 -1.2 8 -1.2 8 5 L8 8 C8 13 5 14.6 1 13"/><path transform="translate(24 0)" d="M6 14 L6 0 L0 10 L8.5 10"/></g>
<g transform="matrix(1 0.55 0 1 1458 251) translate(0 -14)" fill="none" stroke="#383838" stroke-width="1.2" stroke-linecap="round" stroke-linejoin="round"><path transform="translate(0 0)" d="M1.5 2.5 L4.5 0 L4.5 14"/><path transform="translate(12 0)" d="M4 0 C8.5 0 8.5 14 4 14 C-0.5 14 -0.5 0 4 0 Z"/><path transform="translate(24 0)" d="M7 1.5 C3 -1 0 3 0 9 C0 14.6 8 14.6 8 9.5 C8 5 1 5 0 9"/></g>
<g transform="matrix(1 0.55 0 1 1452 342) translate(0 -14)" fill="none" stroke="#383838" stroke-width="1.2" stroke-linecap="round" stroke-linejoin="round"><path transform="translate(0.0 0)" d="M1.5 2.5 L4.5 0 L4.5 14"/><path transform="translate(10.5 0)" d="M0.5 3.5 C0.5 -0.8 7.5 -0.8 7.5 3.5 C7.5 6.5 0 10 0 14 L8 14"/><path transform="translate(21.0 0)" d="M0 0 L8 0 L3 14"/><path transform="translate(31.5 0)" d="M4 0 C8.5 0 8.5 14 4 14 C-0.5 14 -0.5 0 4 0 Z"/></g>
<g transform="matrix(1 0.55 0 1 1490 396) translate(0 -14)" fill="none" stroke="#383838" stroke-width="1.2" stroke-linecap="round" stroke-linejoin="round"><path transform="translate(0.0 0)" d="M1.5 2.5 L4.5 0 L4.5 14"/><path transform="translate(10.5 0)" d="M0 0 L8 0 L3 14"/><path transform="translate(21.0 0)" d="M4 0 C8.5 0 8.5 14 4 14 C-0.5 14 -0.5 0 4 0 Z"/><path transform="translate(31.5 0)" d="M4 0 C8.5 0 8.5 14 4 14 C-0.5 14 -0.5 0 4 0 Z"/></g>
<g transform="matrix(1 0.55 0 1 1546.6 400) translate(0 -14)" fill="none" stroke="#383838" stroke-width="1.2" stroke-linecap="round" stroke-linejoin="round"><path transform="translate(0.0 0)" d="M0.5 3.5 C0.5 -0.8 7.5 -0.8 7.5 3.5 C7.5 6.5 0 10 0 14 L8 14"/><path transform="translate(10.5 0)" d="M1.5 2.5 L4.5 0 L4.5 14"/><path transform="translate(21.0 0)" d="M4 0 C8.5 0 8.5 14 4 14 C-0.5 14 -0.5 0 4 0 Z"/><path transform="translate(31.5 0)" d="M4 0 C8.5 0 8.5 14 4 14 C-0.5 14 -0.5 0 4 0 Z"/></g>
<g transform="matrix(1 0.55 0 1 1476 430) translate(0 -14)" fill="none" stroke="#383838" stroke-width="1.2" stroke-linecap="round" stroke-linejoin="round"><path transform="translate(0.0 0)" d="M7 1.5 C3 -1 0 3 0 9 C0 14.6 8 14.6 8 9.5 C8 5 1 5 0 9"/><path transform="translate(10.5 0)" d="M4 0 C8.5 0 8.5 14 4 14 C-0.5 14 -0.5 0 4 0 Z"/></g>
<g transform="matrix(1 0.55 0 1 1456.6 466) translate(0 -14)" fill="none" stroke="#383838" stroke-width="1.2" stroke-linecap="round" stroke-linejoin="round"><path transform="translate(0.0 0)" d="M0.5 2 C1.5 -0.6 7.5 -0.6 7.5 3.5 C7.5 6 5 7 3 7 C5.5 7 8 8 8 10.5 C8 14.6 1 14.6 0 12"/><path transform="translate(10.5 0)" d="M0 0 L8 0 L3 14"/><path transform="translate(21.0 0)" d="M4 0 C8.5 0 8.5 14 4 14 C-0.5 14 -0.5 0 4 0 Z"/></g>
<g transform="matrix(0.866 -0.5 0.87 0.5 1138 522) translate(0 -14)" fill="none" stroke="#383838" stroke-width="1.2" stroke-linecap="round" stroke-linejoin="round"><path transform="translate(0.0 0)" d="M1.5 2.5 L4.5 0 L4.5 14"/><path transform="translate(12.5 0)" d="M8 5 C7.5 9 0 9 0 4.5 C0 -1.2 8 -1.2 8 5 L8 8 C8 13 5 14.6 1 13"/><path transform="translate(25.0 0)" d="M4 7 C0.3 7 0.5 0 4 0 C7.5 0 7.7 7 4 7 C-0.3 7 -0.3 14 4 14 C8.3 14 8.3 7 4 7 Z"/><path transform="translate(37.5 0)" d="M4 0 C8.5 0 8.5 14 4 14 C-0.5 14 -0.5 0 4 0 Z"/></g>
<g transform="matrix(0.866 -0.5 0.87 0.5 1426.6 555.5) translate(0 -14)" fill="none" stroke="#383838" stroke-width="1.2" stroke-linecap="round" stroke-linejoin="round"><path transform="translate(0 0)" d="M8 5 C7.5 9 0 9 0 4.5 C0 -1.2 8 -1.2 8 5 L8 8 C8 13 5 14.6 1 13"/><path transform="translate(13 0)" d="M4 7 C0.3 7 0.5 0 4 0 C7.5 0 7.7 7 4 7 C-0.3 7 -0.3 14 4 14 C8.3 14 8.3 7 4 7 Z"/><path transform="translate(26 0)" d="M4 0 C8.5 0 8.5 14 4 14 C-0.5 14 -0.5 0 4 0 Z"/></g>
</svg>
</body></html>
